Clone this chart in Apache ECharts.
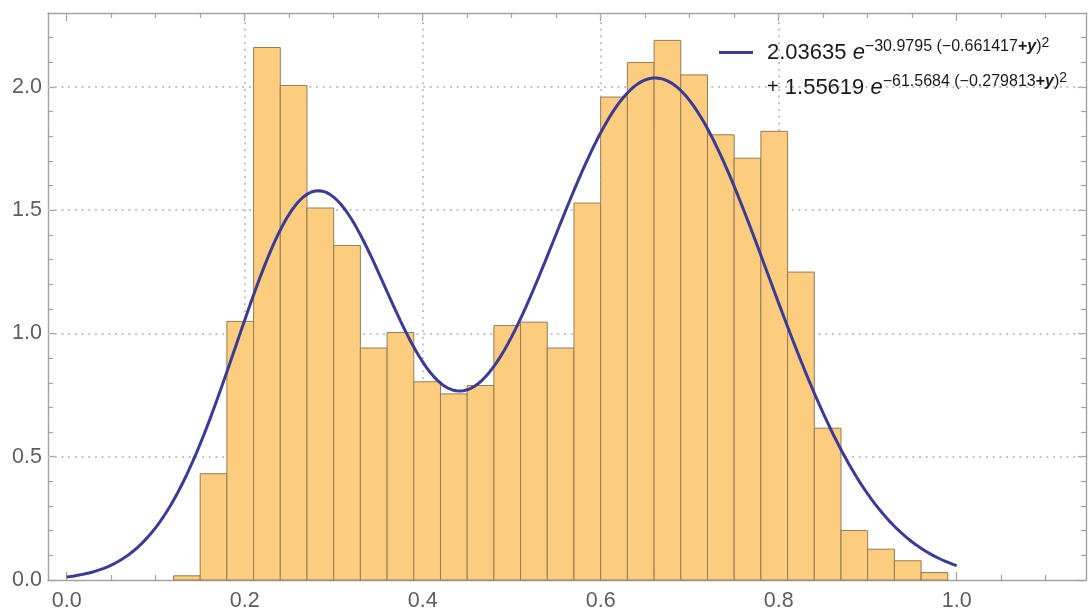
<!DOCTYPE html>
<html>
<head>
<meta charset="utf-8">
<script src="https://cdn.jsdelivr.net/npm/echarts@6/dist/echarts.min.js"></script>
<style>
  html, body { margin: 0; padding: 0; background: #ffffff; }
  #chart { width: 1088px; height: 616px; }
</style>
</head>
<body>
<div id="chart"></div>
<script>
// Histogram bins (left edges), common bin width and density per bin
const binStarts = [0.12, 0.15, 0.18, 0.21, 0.24, 0.27, 0.30, 0.33, 0.36, 0.39,
                   0.42, 0.45, 0.48, 0.51, 0.54, 0.57, 0.60, 0.63, 0.66, 0.69,
                   0.72, 0.75, 0.78, 0.81, 0.84, 0.87, 0.90, 0.93, 0.96];
const binWidth = 0.03;
const densities = [0.017, 0.431, 1.049, 2.160, 2.006, 1.509, 1.357, 0.941, 1.004, 0.804,
                   0.755, 0.789, 1.032, 1.046, 0.941, 1.529, 1.959, 2.099, 2.189, 2.049,
                   1.806, 1.711, 1.820, 1.249, 0.616, 0.201, 0.125, 0.078, 0.030];

// Fitted two-Gaussian model: a * exp(-b * (y - c)^2), summed over both terms
const fitAmplitudes = [2.03635, 1.55619];
const fitRates = [30.9795, 61.5684];
const fitCenters = [0.661417, 0.279813];
const fitDomain = [0, 1];

// Tick positions and grid lines
const xMajorTicks = [0, 0.2, 0.4, 0.6, 0.8, 1.0];
const xMinorTicks = [0.05, 0.1, 0.15, 0.25, 0.3, 0.35, 0.45, 0.5, 0.55, 0.65, 0.7, 0.75,
                     0.85, 0.9, 0.95, 1.05, 1.1];
const xGridLines = [0.2, 0.4, 0.6, 0.8];
const yMajorTicks = [0, 0.5, 1.0, 1.5, 2.0];
const yMinorTicks = [0.1, 0.2, 0.3, 0.4, 0.6, 0.7, 0.8, 0.9, 1.1, 1.2, 1.3, 1.4,
                     1.6, 1.7, 1.8, 1.9, 2.1, 2.2];
const yGridLines = [0.5, 1.0, 1.5, 2.0];

const xRange = [-0.0210, 1.1453];
const yRange = [0, 2.300];

// Sample the fitted model across its domain
const curveSteps = 240;
const curveData = [];
for (let i = 0; i <= curveSteps; i++) {
  const y = fitDomain[0] + (fitDomain[1] - fitDomain[0]) * i / curveSteps;
  let v = 0;
  for (let k = 0; k < fitAmplitudes.length; k++) {
    v += fitAmplitudes[k] * Math.exp(-fitRates[k] * Math.pow(y - fitCenters[k], 2));
  }
  curveData.push([y, v]);
}

const histData = binStarts.map((s, i) => [s, s + binWidth, densities[i]]);

const FONT = 'Liberation Sans';
const AXIS_COLOR = '#a2a2a2';
const LABEL_COLOR = '#5e5e5e';
const FIT_COLOR = '#3b3b97';

function fmt1(v) { return Number(v).toFixed(1); }

function xAxisDef(position, ticks, len, opts) {
  return Object.assign({
    type: 'value', position: position, min: xRange[0], max: xRange[1],
    axisLine: { show: false, onZero: false },
    axisTick: { show: true, inside: true, length: len, customValues: ticks,
                lineStyle: { color: AXIS_COLOR, width: 1.2 } },
    axisLabel: { show: false },
    splitLine: { show: false },
    minorTick: { show: false }, minorSplitLine: { show: false }
  }, opts || {});
}
function yAxisDef(position, ticks, len, opts) {
  return Object.assign({
    type: 'value', position: position, min: yRange[0], max: yRange[1],
    axisLine: { show: false, onZero: false },
    axisTick: { show: true, inside: true, length: len, customValues: ticks,
                lineStyle: { color: AXIS_COLOR, width: 1.2 } },
    axisLabel: { show: false },
    splitLine: { show: false },
    minorTick: { show: false }, minorSplitLine: { show: false }
  }, opts || {});
}

const frameLine = { show: true, onZero: false, lineStyle: { color: AXIS_COLOR, width: 1.4 } };

// Legend text built from the fit parameters, with superscript exponents
const sup = (s) => '{s|' + s + '}';
function termText(k) {
  return '{m|' + fitAmplitudes[k] + '}{e| e}' +
         sup('\u2212' + fitRates[k] + ' (\u2212' + fitCenters[k]) +
         '{sb|+}{sy|y}' + sup(')') + '{x|2}';
}
const legendText = '{m| }\n{g| }' + termText(0) + '\n{g| }{p|+}{m| }' + termText(1);

const supBase = { fontFamily: FONT, fontSize: 16, lineHeight: 15, padding: [0, 0, 12, 0], color: '#1a1a1a' };

const chart = echarts.init(document.getElementById('chart'), null, { renderer: 'canvas' });
chart.setOption({
  animation: false,
  backgroundColor: '#ffffff',
  grid: { left: 48, top: 13, right: 2, bottom: 36, containLabel: false, outerBoundsMode: 'none' },
  legend: {
    show: true, left: 719, top: 0, padding: 0, orient: 'vertical',
    itemWidth: 34, itemHeight: 3, selectedMode: false,
    data: [{ name: 'fit', icon: 'rect' }],
    itemStyle: { color: FIT_COLOR },
    formatter: () => legendText,
    textStyle: {
      fontFamily: FONT, fontSize: 22, lineHeight: 35, color: '#1a1a1a',
      rich: {
        g: { width: 9, fontFamily: FONT, fontSize: 22, lineHeight: 35 },
        m: { fontFamily: FONT, fontSize: 22, lineHeight: 35, color: '#1a1a1a' },
        p: { fontFamily: FONT, fontSize: 20, lineHeight: 35, color: '#1a1a1a' },
        e: { fontFamily: FONT, fontSize: 22, fontStyle: 'italic', lineHeight: 35, color: '#1a1a1a' },
        s: Object.assign({}, supBase),
        sb: Object.assign({}, supBase, { fontWeight: 'bold' }),
        sy: Object.assign({}, supBase, { fontWeight: 'bold', fontStyle: 'italic' }),
        x: { fontFamily: FONT, fontSize: 14, lineHeight: 13, padding: [0, 0, 18, 0], color: '#1a1a1a' }
      }
    }
  },
  xAxis: [
    xAxisDef('bottom', xMajorTicks, 8, {
      axisLine: frameLine,
      axisLabel: { show: true, customValues: xMajorTicks, formatter: fmt1, margin: 10,
                   fontFamily: FONT, fontSize: 21.5, color: LABEL_COLOR }
    }),
    xAxisDef('bottom', xMinorTicks, 5),
    xAxisDef('top', xMajorTicks, 8, { axisLine: frameLine }),
    xAxisDef('top', xMinorTicks, 5)
  ],
  yAxis: [
    yAxisDef('left', yMajorTicks, 8, {
      axisLine: frameLine,
      axisLabel: { show: true, customValues: yMajorTicks, formatter: fmt1, margin: 6,
                   fontFamily: FONT, fontSize: 21.5, color: LABEL_COLOR }
    }),
    yAxisDef('left', yMinorTicks, 5),
    yAxisDef('right', yMajorTicks, 8, { axisLine: frameLine }),
    yAxisDef('right', yMinorTicks, 5)
  ],
  series: [
    {
      // dotted grid lines behind the histogram
      name: 'grid',
      type: 'line',
      xAxisIndex: 0, yAxisIndex: 0,
      data: [],
      z: 1,
      silent: true,
      markLine: {
        z: 1,
        silent: true,
        symbol: ['none', 'none'],
        label: { show: false },
        emphasis: { disabled: true },
        lineStyle: { color: '#c4c4c4', width: 2, type: [2, 4.7] },
        data: xGridLines.map(v => ({ xAxis: v })).concat(yGridLines.map(v => ({ yAxis: v })))
      }
    },
    {
      name: 'bins',
      type: 'custom',
      xAxisIndex: 0, yAxisIndex: 0,
      z: 2,
      data: histData,
      encode: { x: [0, 1], y: 2 },
      renderItem: function (params, api) {
        const topLeft = api.coord([api.value(0), api.value(2)]);
        const bottomRight = api.coord([api.value(1), 0]);
        return {
          type: 'rect',
          shape: { x: topLeft[0], y: topLeft[1],
                   width: bottomRight[0] - topLeft[0], height: bottomRight[1] - topLeft[1] },
          style: { fill: '#fccd7e', stroke: '#957c57', lineWidth: 1 }
        };
      }
    },
    {
      name: 'fit',
      type: 'line',
      xAxisIndex: 0, yAxisIndex: 0,
      z: 3,
      data: curveData,
      showSymbol: false, symbol: 'none', smooth: false,
      lineStyle: { color: FIT_COLOR, width: 3 },
      itemStyle: { color: FIT_COLOR }
    }
  ]
});
</script>
</body>
</html>
